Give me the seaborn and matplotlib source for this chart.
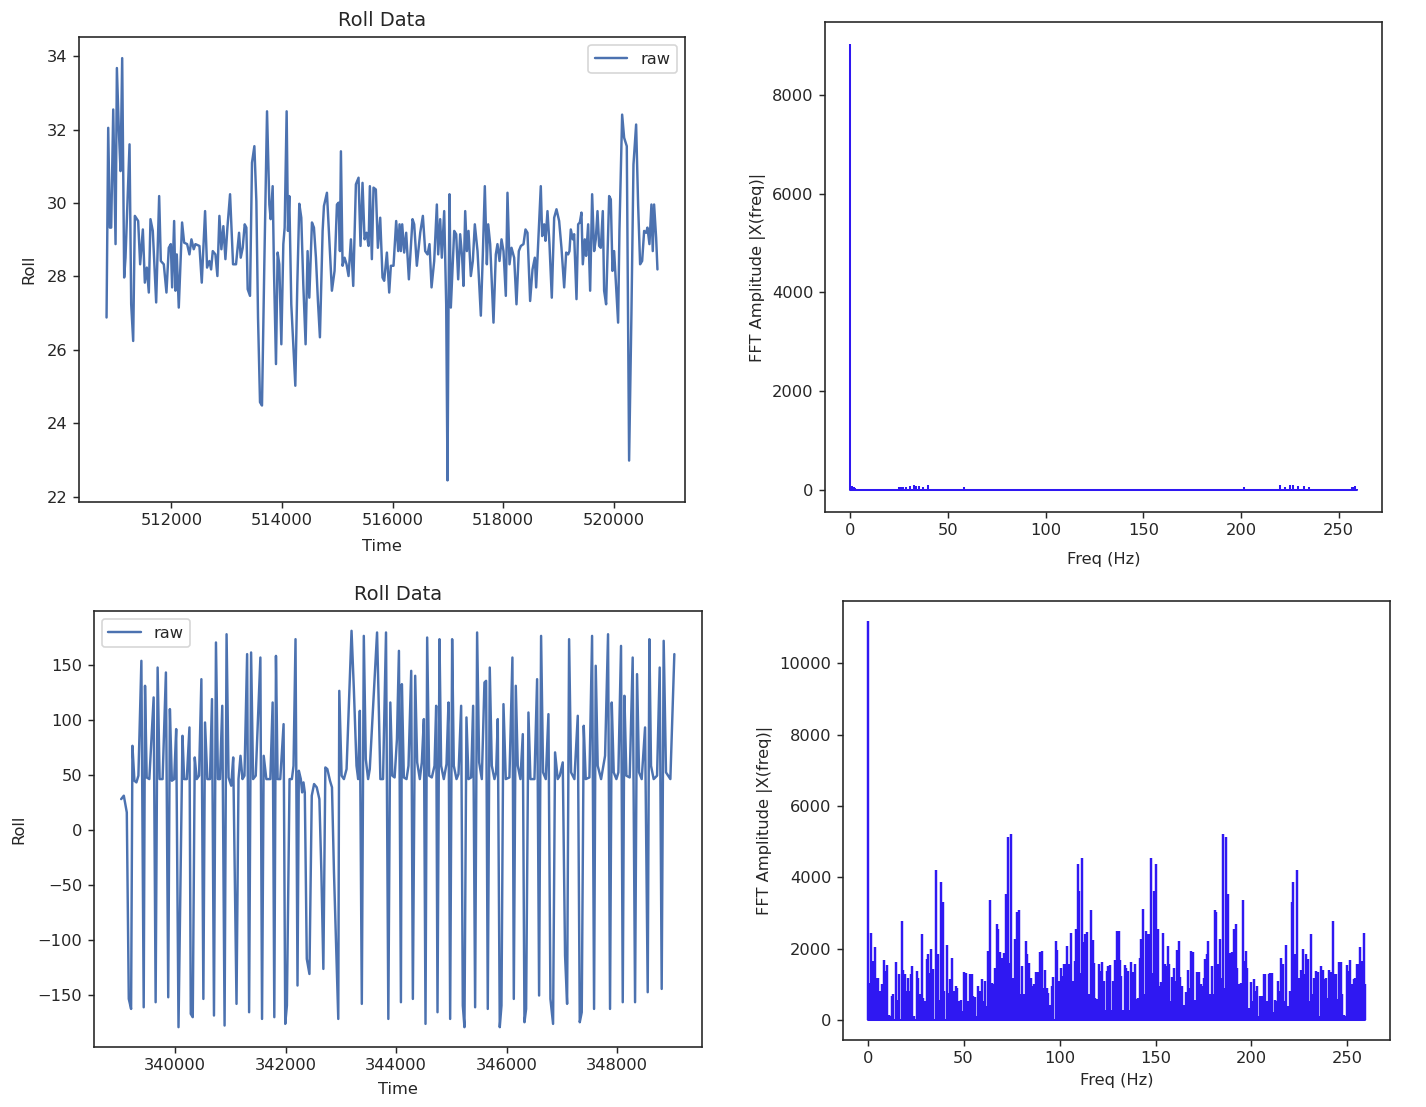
import numpy as np
import matplotlib
matplotlib.use("Agg")
import matplotlib.pyplot as plt
import seaborn as sns

# ---------------- Top-left: Roll Data (raw) ----------------
tl_time = [510825, 510855, 510885, 510909, 510946, 510988, 511012, 511048, 511078, 511108,
           511144, 511168, 511241, 511271, 511307, 511337, 511397, 511433, 511482, 511518,
           511554, 511590, 511620, 511662, 511723, 511777, 511807, 511861, 511909, 511951,
           511988, 512012, 512048, 512072, 512096, 512132, 512192, 512229, 512283, 512325,
           512361, 512403, 512433, 512506, 512548, 512608, 512644, 512686, 512717, 512747,
           512795, 512831, 512867, 512903, 512939, 512976, 513012, 513060, 513114, 513168,
           513223, 513253, 513289, 513325, 513355, 513379, 513421, 513457, 513500, 513536,
           513566, 513602, 513638, 513680, 513729, 513771, 513795, 513831, 513855, 513891,
           513921, 513951, 513988, 514024, 514048, 514084, 514108, 514132, 514168, 514241,
           514277, 514313, 514349, 514385, 514427, 514463, 514494, 514542, 514578, 514614,
           514650, 514686, 514735, 514759, 514813, 514855, 514903, 514951, 514994, 515024,
           515048, 515066, 515096, 515132, 515168, 515204, 515247, 515289, 515337, 515385,
           515421, 515457, 515494, 515530, 515566, 515590, 515626, 515656, 515698, 515735,
           515777, 515819,
           515849, 515898, 515940, 515970, 516018, 516066, 516103, 516127, 516151, 516175,
           516211, 516247, 516296, 516362, 516392, 516440, 516501, 516549, 516591, 516633,
           516669, 516706, 516754, 516802, 516826, 516862, 516892, 516935, 516971, 516995,
           517013, 517031, 517055, 517085, 517116, 517152, 517188, 517224, 517260, 517284,
           517315, 517345, 517375, 517417, 517453, 517489, 517538, 517598, 517634, 517670,
           517707, 517731, 517767, 517827, 517869, 517899, 517936, 517972, 518008, 518050,
           518080, 518117, 518153, 518201, 518243, 518285, 518322, 518370, 518406, 518442,
           518490, 518533, 518575, 518599, 518635, 518683, 518708, 518744, 518768, 518804,
           518840, 518882, 518925, 518967, 519015, 519057, 519106, 519142, 519178, 519202,
           519226, 519262, 519286, 519329, 519359, 519389, 519419, 519443, 519479, 519503,
           519540, 519576, 519612, 519648, 519678, 519709, 519739, 519769, 519805, 519829,
           519865, 519920, 519950, 519980, 520010, 520046, 520082, 520106, 520155, 520191,
           520239, 520281, 520323, 520360, 520408, 520444, 520480, 520517, 520553, 520589,
           520613, 520649, 520685, 520709, 520733, 520770, 520794]
tl_roll = [26.88, 32.05, 29.33, 29.33, 32.55, 28.88, 33.68, 31.96, 30.87, 33.95,
           27.97, 28.51, 31.60, 27.24, 26.24, 29.65, 29.51, 28.33, 29.28, 27.83,
           28.24, 27.56, 29.56, 29.24, 27.29, 30.19, 28.42, 28.33, 27.56, 28.78,
           28.88, 27.70, 29.51, 27.61, 28.60, 27.15, 29.47, 28.92, 28.88, 28.60,
           29.01, 28.74, 28.88, 28.83, 27.83, 29.78, 28.24, 28.42, 28.19, 28.69,
           28.60, 28.01, 29.65, 28.74, 29.37, 28.47, 29.33, 30.24, 28.33, 28.33,
           29.19, 28.51, 28.78, 29.42, 29.33, 27.65, 27.47, 31.10, 31.55, 30.05,
           26.88, 24.57, 24.48, 28.33, 32.50, 29.96, 29.56, 30.46, 28.15, 25.61,
           28.65, 28.33, 26.15, 28.88, 29.33, 32.50, 29.24, 30.19, 27.24, 25.02,
           27.79, 29.98, 29.60, 27.79, 26.15, 28.69, 27.42, 29.47, 29.33, 28.51,
           27.33, 26.34, 29.24, 29.92, 30.28, 29.06, 27.61, 28.15, 29.96, 30.01,
           28.69, 31.41, 28.29, 28.51, 28.33, 28.01, 29.01, 27.74, 30.51, 30.69,
           28.83, 30.55, 29.01, 29.19, 28.83, 30.46, 28.47, 30.42, 30.37, 28.78,
           29.60, 27.97,
           27.88, 28.65, 27.56, 28.29, 28.29, 29.51, 28.69, 29.42, 28.69, 29.42,
           28.65, 29.19, 27.92, 29.56, 29.42, 28.29, 29.19, 29.65, 28.69, 28.60,
           28.88, 27.70, 28.42, 29.96, 28.60, 29.56, 28.51, 29.78, 27.24, 22.44,
           27.15, 30.24, 27.15, 28.15, 29.24, 29.15, 27.92, 29.15, 28.51, 27.74,
           29.78, 28.69, 29.24, 28.01, 28.42, 29.42, 28.69, 26.93, 28.60, 30.46,
           28.33, 29.42, 28.88, 26.74, 28.60, 28.88, 28.42, 29.01, 28.69, 27.47,
           30.28, 28.33, 28.78, 28.51, 27.24, 28.69, 28.83, 28.88, 29.28, 29.19,
           27.33, 28.19, 28.51, 27.70, 28.88, 30.46, 29.10, 29.42, 28.97, 29.78,
           28.88, 27.42, 29.60, 29.83, 29.51, 28.78, 27.70, 28.65, 28.60, 28.69,
           29.28, 29.01, 29.15, 27.38, 29.42, 29.47, 29.74, 28.33, 29.01, 28.56,
           29.42, 27.61, 30.24, 28.69, 29.01, 29.78, 28.83, 28.78, 29.78, 27.61,
           27.24, 30.19, 30.10, 28.15, 28.69, 27.70, 26.74, 29.24, 32.41, 31.78,
           31.55, 22.98, 26.97, 31.05, 32.14, 29.96, 28.33, 28.42, 29.24, 29.19,
           29.33, 28.88, 29.96, 28.69, 29.96, 29.06, 28.19]

# ---------------- Bottom-left: Roll Data (raw) ----------------
bl_time = [339022, 339070, 339124, 339160, 339202, 339226, 339262, 339298, 339334, 339388,
           339430, 339454, 339484, 339532, 339610, 339646, 339682, 339718, 339772, 339832,
           339874, 339904, 339940, 339982, 340018, 340060, 340132, 340162, 340210, 340258,
           340282, 340318, 340354, 340390, 340432, 340474, 340510, 340540, 340582, 340630,
           340666, 340702, 340738, 340774, 340810, 340852, 340894, 340930, 340966, 341014,
           341050, 341110, 341146, 341182, 341218, 341254, 341302, 341338, 341374, 341410,
           341458, 341542, 341572, 341602, 341650, 341722, 341764, 341794, 341824, 341854,
           341902, 341962, 341992, 342022, 342070, 342112, 342142, 342178, 342214, 342238,
           342274, 342298, 342322, 342346, 342382, 342430, 342472, 342514, 342562, 342610,
           342646, 342682, 342718, 342754, 342802, 342838, 342874, 342952, 342970, 343012,
           343054, 343102, 343192, 343234, 343282, 343312, 343342, 343378, 343414, 343450,
           343492, 343522, 343654, 343678, 343714, 343762, 343816, 343858, 343894, 343930,
           343972, 344014, 344050, 344086,
           344103, 344139, 344187, 344223, 344272, 344302, 344344, 344380, 344428, 344464,
           344501, 344531, 344561, 344597, 344645, 344694, 344724, 344748, 344784, 344814,
           344862, 344911, 344947, 344977, 345013, 345043, 345092, 345128, 345176, 345206,
           345236, 345272, 345309, 345357, 345393, 345429, 345465, 345502, 345550, 345598,
           345628, 345658, 345694, 345731, 345779, 345809, 345839, 345875, 345906, 345942,
           345984, 346050, 346104, 346129, 346165, 346201, 346249, 346292, 346322, 346352,
           346394, 346430, 346503, 346551, 346587, 346623, 346659, 346708, 346756, 346792,
           346840, 346876, 346924, 346961, 347015, 347057, 347094, 347130, 347166, 347226,
           347287, 347323, 347359, 347395, 347431, 347498, 347546, 347582, 347612, 347648,
           347709, 347781, 347835, 347871, 347902, 347938, 347986, 348022, 348070, 348101,
           348131, 348167, 348227, 348281, 348324, 348360, 348396, 348444, 348505, 348553,
           348583, 348613, 348661, 348722, 348770, 348806, 348842, 348884, 348963, 349035]
bl_roll = [27.8, 30.9, 15.7, -154.0, -163.1, 76.3, 44.5, 43.0, 49.1, 153.6,
           -161.6, 130.9, 47.5, 46.0, 120.3, -157.0, 147.5, 46.0, 46.0, 143.0,
           -152.5, 109.7, 44.5, 46.0, 91.5, -179.7, 85.4, 46.0, 46.0, 93.0,
           -167.6, -170.6, 65.7, 46.0, 49.1, 136.9, -154.0, 97.5, 46.0, 46.0,
           118.8, -169.1, 170.3, 46.0, 46.0, 112.7, -178.2, 177.8, 47.5, 40.0,
           65.7, -158.5, 46.0, 67.2, 46.0, 49.1, 159.7, -166.1, 161.2, 46.0,
           49.1, 156.6, -172.2, 67.2, 46.0, 46.0, 115.7, -170.6, 158.1, 46.0,
           46.0, 96.0, -176.7, -160.0, 46.0, 46.0, 58.1, 173.3, -141.8, 53.6,
           46.0, 33.9, 43.0, 33.9, -117.6, -131.3, 30.9, 41.5, 38.5, 27.8,
           -38.8, -126.7, 56.6, 55.1, 44.5, 38.5, -38.8, -172.2, 126.3, 49.1,
           46.0, 55.1, 180.9, 127.8, 58.1, 46.0, 108.1, -158.5, 176.3, 64.2,
           46.0, 55.1, 179.4, 127.8, 46.0, 46.0, 179.4, -172.2, 115.7, 49.1,
           47.5, 82.4, 162.7, -157.0,
           132.4, 47.5, 46.0, 58.1, 144.5, -154.0, 140.0, 61.2, 46.0, 61.2,
           100.6, -176.7, 174.8, 49.1, 47.5, 58.1, 112.7, -166.1, 173.3, 58.1,
           46.0, 59.7, 115.7, -172.2, 173.3, 58.1, 46.0, 50.6, 112.7, -160.0,
           -179.7, 102.1, 46.0, 47.5, 112.7, -161.6, 179.4, 61.2, 46.0, 133.9,
           135.4, -163.1, 147.5, 58.1, 46.0, 52.1, 100.6, -179.7, -160.0, 114.2,
           46.0, 47.5, 156.6, -154.0, 130.9, 58.1, 46.0, 86.9, -175.2, -163.1,
           106.6, 46.0, 46.0, 136.9, -150.9, 176.3, 52.1, 46.0, 105.1, -154.0,
           -176.7, 70.3, 46.0, 49.1, 61.2, -114.6, -158.5, 173.3, 52.1, 46.0,
           103.6, -175.2, -166.1, 94.5, 46.0, 47.5, 176.3, -163.1, 149.1, 58.1,
           46.0, 67.2, 177.8, -163.1, 115.7, 52.1, 46.0, 52.1, 167.2, -157.0,
           121.8, 49.1, 47.5, 156.6, -157.0, 141.5, 52.1, 46.0, 93.0, -147.9,
           173.3, 58.1, 46.0, 49.1, 147.5, -144.9, 171.8, 52.1, 46.0, 159.7]

# ---------------- Top-right: FFT of top signal ----------------
tr_freq = [0.0, 0.9, 1.8, 2.6, 24.7, 25.9, 27.1, 28.5, 30.3, 32.6, 33.8, 35.2, 37.0,
           40.0, 58.1, 201.7, 219.7, 222.3, 225.0, 226.7, 229.4, 232.0, 234.7,
           256.7, 257.6, 258.4, 259.2]
tr_amp = [9030, 70, 60, 40, 60, 60, 60, 50, 80, 90, 70, 70, 60,
          100, 60, 60, 100, 60, 90, 100, 70, 70, 60,
          50, 60, 70, 20]

# ---------------- Bottom-right: FFT of bottom signal ----------------
br_freq = [0.0, 0.9, 1.9, 2.6, 3.7, 4.3, 5.6, 6.4, 7.5, 8.5,
           9.4, 10.2, 11.3, 12.0, 12.7, 13.4, 14.6, 15.8, 16.6, 17.7,
           18.6, 19.4, 20.1, 20.8, 21.7, 22.4, 23.4, 24.4, 25.5, 26.5,
           27.2, 28.1, 29.0, 30.0, 30.8, 31.7, 32.4, 33.1, 34.1, 35.5,
           36.6, 37.4, 38.5, 39.3, 40.0, 41.4, 42.3, 43.1, 44.2, 45.0,
           45.9, 46.8, 47.8, 48.7, 49.4, 50.1, 51.2, 51.8, 52.5, 53.4,
           54.2, 55.1, 56.0, 56.8, 57.5, 58.4, 59.4, 60.3, 61.0, 61.8,
           62.7, 63.9, 64.8, 65.6, 66.5, 67.4, 68.2, 69.1, 70.0, 71.0,
           72.1, 72.9, 74.0, 74.8, 75.7, 76.6, 77.4, 78.1, 79.0, 79.9,
           80.5, 81.4, 82.3, 83.1, 84.0, 84.9, 85.7, 86.6, 87.5, 88.3,
           89.0, 89.9, 91.0, 91.6, 92.5, 93.4, 94.2, 95.1, 96.0, 96.8,
           97.9, 98.7, 99.6, 100.6, 101.5, 102.4, 103.2, 104.1, 105.0, 105.8,
           106.9, 107.9, 108.8, 109.6, 110.3, 111.2, 111.9, 112.8, 113.4, 114.5,
           115.5, 116.6, 117.3, 118.0, 118.6, 119.5, 120.4, 121.2, 122.1, 123.1,
           123.8, 124.5, 125.2, 126.1, 126.8, 127.6, 128.7, 129.7, 130.8, 131.4,
           132.1, 133.0, 133.9, 134.7, 135.6, 136.5, 137.3, 138.2, 139.2, 140.1,
           141.1, 141.8, 142.7, 143.4, 144.3, 145.1, 146.0, 146.9, 147.6, 148.4,
           149.3, 150.3, 151.2, 152.1, 152.9, 153.8, 154.7, 155.5, 156.4, 157.2,
           157.9, 158.8, 159.7, 160.5, 161.4, 162.1, 163.0, 163.8, 164.7, 165.4,
           166.1, 167.1, 168.0, 168.7, 169.7, 170.8, 171.6, 172.7, 173.5, 174.4,
           175.1, 175.9, 176.8, 177.5, 178.4, 179.2, 180.1, 180.8, 181.7, 182.5,
           183.4, 184.1, 185.0, 185.8, 186.7, 187.6, 188.6, 189.3, 190.1, 191.0,
           191.9, 192.7, 193.6, 194.5, 195.5, 196.4, 197.2, 197.9, 198.8, 199.5,
           200.4, 201.2, 202.1, 202.8, 203.7, 204.5, 205.4, 206.3, 207.1, 208.0,
           208.9, 209.7, 210.6, 211.3, 212.1, 213.0, 213.9, 214.7, 215.6, 216.5,
           217.3, 218.2, 219.1, 220.1, 221.0, 221.8, 222.7, 223.9, 225.0, 225.6,
           226.7, 227.5, 228.4, 229.3, 230.2, 231.0, 231.9, 232.7, 233.6, 234.5,
           235.3, 236.2, 237.1, 237.9, 238.8, 239.5, 240.4, 241.4, 242.3, 243.1,
           244.0, 244.7, 245.6, 246.4, 247.3, 248.2, 248.9, 249.7, 250.6, 251.5,
           252.3, 253.2, 254.0, 254.9, 255.8, 256.6, 257.5, 258.4, 259.2]
br_amp = [11190, 1046, 2430, 1658, 2034, 1187, 1187, 810, 1017, 1676,
          1375, 1545, 151, 104, 669, 716, 1639, 575, 1281, 2769,
          1394, 1281, 810, 1168, 810, 1300, 1507, 104, 1375, 1168,
          716, 2411, 622, 528, 1705, 1846, 1328, 1987, 1422, 4200,
          1846, 575, 3870, 3305, 810, 2110, 763, 1140, 1752, 810,
          951, 904, 528, 575, 245, 1347, 1328, 264, 528, 1281,
          1300, 669, 641, 104, 951, 810, 1140, 528, 1093, 386,
          1940, 3371, 1046, 999, 1450, 2693, 2552, 1893, 1752, 1865,
          3541, 5141, 1611, 5217, 1187, 2270, 1563, 3023, 3070, 716,
          1516, 716, 2223, 1846, 1611, 1187, 951, 999, 1356, 575,
          1356, 1893, 1921, 904, 1394, 904, 763, 434, 951, 1206,
          2204, 1959, 1093, 1469, 1234, 1563, 1582, 2081, 1563, 2430,
          1093, 1658, 2552, 4370, 3616, 1328, 4530, 2176, 2411, 2458,
          716, 3089, 2242, 1611, 622, 603, 1563, 1375, 1629, 1093,
          292, 1375, 1516, 1545, 292, 1093, 1676, 2505, 2505, 1676,
          1234, 292, 1545, 1469, 1375, 292, 1639, 1356, 1582, 603,
          622, 1752, 2270, 3117, 735, 2486, 2411, 2411, 4530, 1328,
          3616, 4370, 2552, 951, 1074, 2430, 1563, 1516, 2081, 1582,
          528, 1206, 1469, 1093, 1959, 2204, 1206, 951, 434, 198,
          792, 1394, 904, 1921, 1893, 575, 1356, 1356, 999, 951,
          1187, 1705, 1846, 2223, 716, 1516, 716, 3070, 3023, 1563,
          2270, 1187, 5217, 904, 5141, 3541, 1865, 1752, 1893, 2552,
          2693, 1450, 999, 1046, 3371, 1658, 1940, 1469, 339, 1074,
          528, 1140, 810, 951, 104, 669, 669, 1300, 1281, 528,
          1300, 1328, 1328, 226, 575, 528, 1093, 810, 1733, 1563,
          528, 2110, 386, 810, 3305, 3870, 1846, 4200, 1187, 1394,
          1987, 1300, 1846, 1705, 528, 2411, 716, 1168, 1375, 1356,
          104, 1507, 1394, 1140, 1168, 622, 1394, 1356, 2769, 1281,
          1281, 603, 1639, 1620, 716, 151, 104, 1545, 1375, 1676,
          1017, 1140, 1187, 1582, 1563, 2034, 1658, 2430, 1017]

# ---------------- Styling ----------------
sns.set_theme(style="ticks", rc={
    "axes.linewidth": 1.0,
    "xtick.major.size": 3.5, "ytick.major.size": 3.5,
    "xtick.major.width": 0.9, "ytick.major.width": 0.9,
    "font.size": 10, "axes.titlesize": 12, "axes.labelsize": 10,
    "xtick.labelsize": 10, "ytick.labelsize": 10, "legend.fontsize": 10,
    "lines.linewidth": 1.5,
    "axes.titlepad": 7.0,
})
plt.rcParams["font.family"] = ["DejaVu Sans"]

DPI = 117
fig = plt.figure(figsize=(1426 / DPI, 1107 / DPI), dpi=DPI)
fig.patch.set_facecolor("white")

W, H = 1426.0, 1107.0
def px_axes(left, top, right, bottom):
    return fig.add_axes([left / W, 1 - bottom / H, (right - left) / W, (bottom - top) / H])

ax_tl = px_axes(79, 37, 685, 501.5)
ax_tr = px_axes(825, 22, 1382, 512)
ax_bl = px_axes(93.5, 611, 702, 1047)
ax_br = px_axes(842.7, 600.7, 1390, 1040)

line_color = sns.color_palette("deep")[0]
fft_color = "#2f18f2"

for ax, t, r, loc, xpad, ypad in [(ax_tl, tl_time, tl_roll, "upper right", 7.1, 6.5),
                                  (ax_bl, bl_time, bl_roll, "upper left", 5.2, 7.0)]:
    sns.lineplot(x=t, y=r, ax=ax, color=line_color, label="raw",
                 estimator=None, sort=False, linewidth=1.5)
    ax.set_title("Roll Data")
    ax.set_xlabel("Time", labelpad=xpad)
    ax.set_ylabel("Roll", labelpad=ypad)
    ax.legend(loc=loc)

for ax, f, a, lw, xpad in [(ax_tr, tr_freq, tr_amp, 1.25, 8.3),
                           (ax_br, br_freq, br_amp, 1.5, 4.0)]:
    markers, stems, base = ax.stem(f, a, linefmt="-", markerfmt=" ", basefmt="-")
    stems.set_color(fft_color)
    stems.set_linewidth(lw)
    base.set_color(fft_color)
    base.set_linewidth(1.25)
    ax.set_xlabel("Freq (Hz)", labelpad=xpad)
    ax.set_ylabel("FFT Amplitude |X(freq)|")

fig.savefig("out.png", dpi=DPI, facecolor="white")
